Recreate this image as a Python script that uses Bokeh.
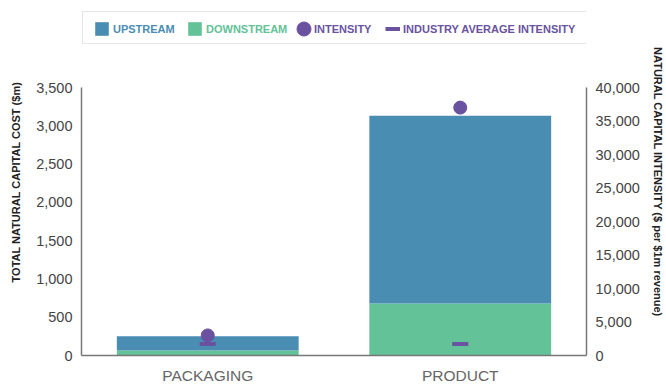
from bokeh.plotting import figure
from bokeh.models import (FactorRange, Range1d, LinearAxis, NumeralTickFormatter,
                          Legend, LegendItem, ColumnDataSource)
from bokeh.embed import file_html
from bokeh.resources import INLINE

categories = ["PACKAGING", "PRODUCT"]
downstream = [65, 680]
upstream = [185, 2450]
intensity = [3000, 37000]
industry_avg = [1700, 1700]

left_ticks = [0, 500, 1000, 1500, 2000, 2500, 3000, 3500]
right_ticks = [0, 5000, 10000, 15000, 20000, 25000, 30000, 35000, 40000]
LEFT_MAX = 3500
RIGHT_MAX = 40000

BLUE = "#4a8db3"
GREEN = "#63c297"
PURPLE = "#6a52a0"
FONT = "Liberation Sans"

# layout (pixels)
FRAME_W = 505
FRAME_H = 347            # frame reaches up to the legend row so the legend lies inside it
AXIS_PX = 268            # height of the scaled axis part
stretch = FRAME_H / AXIS_PX

src = ColumnDataSource(dict(cat=categories, downstream=downstream, upstream=upstream,
                            intensity=intensity, industry=industry_avg))

p = figure(x_range=FactorRange(factors=categories), y_range=Range1d(0, LEFT_MAX * stretch),
           frame_width=FRAME_W, frame_height=FRAME_H, output_backend="svg", toolbar_location=None,
           min_border_left=81, min_border_right=80, min_border_top=8, min_border_bottom=30)
p.extra_y_ranges = {"intensity": Range1d(0, RIGHT_MAX * stretch)}

bars = p.vbar_stack(["downstream", "upstream"], x="cat", width=0.72, color=[GREEN, BLUE],
                    line_color=None, source=src)
dots = p.scatter(x="cat", y="intensity", size=13, color=PURPLE, y_range_name="intensity", source=src)
dashes = p.scatter(x="cat", y="industry", marker="dash", size=16, line_width=4,
                   line_color=PURPLE, y_range_name="intensity", source=src)
# legend-only renderers (nothing visible in the plot)
nan = float("nan")
leg_dot = p.scatter(x=[categories[0]], y=[nan], size=13, color=PURPLE)
leg_line = p.line(x=[categories[0]], y=[nan], line_width=4, line_color=PURPLE)
leg_none = p.line(x=[categories[0]], y=[nan], line_alpha=0)

p.grid.visible = False
p.outline_line_color = None

ya = p.yaxis[0]
ya.ticker = left_ticks
ya.bounds = (0, LEFT_MAX)
ya.formatter = NumeralTickFormatter(format="0,0")
ya.axis_label = "TOTAL NATURAL CAPITAL COST ($m)"

ra = LinearAxis(y_range_name="intensity", ticker=right_ticks, bounds=(0, RIGHT_MAX),
                formatter=NumeralTickFormatter(format="0,0"),
                axis_label="NATURAL CAPITAL INTENSITY ($ per $1m revenue)")
p.add_layout(ra, "right")

for ax in (ya, ra):
    ax.major_tick_line_color = None
    ax.minor_tick_line_color = None
    ax.major_tick_out = 0
    ax.major_tick_in = 0
    ax.axis_line_color = "#777777"
    ax.axis_line_width = 1.5
    ax.major_label_text_font = FONT
    ax.major_label_text_font_size = "14.5px"
    ax.major_label_text_color = "#444444"
    ax.major_label_standoff = 9
    ax.axis_label_text_font = FONT
    ax.axis_label_text_font_style = "bold"
    ax.axis_label_text_font_size = "11px"
    ax.axis_label_text_color = "#222222"
ya.axis_label_standoff = 11
ra.axis_label_standoff = 9

xa = p.xaxis[0]
xa.major_tick_line_color = None
xa.major_tick_out = 0
xa.major_tick_in = 0
xa.axis_line_color = "#777777"
xa.axis_line_width = 1.5
xa.major_label_text_font = FONT
xa.major_label_text_font_size = "15.5px"
xa.major_label_text_color = "#666666"
xa.major_label_standoff = 11

def mk_legend(label, renderers, color, loc, gw=17, gh=17, standoff=3, border=None, alpha=1.0):
    lg = Legend(items=[LegendItem(label=label, renderers=renderers)], location=loc,
                orientation="horizontal", border_line_color=border, border_line_width=1.5,
                background_fill_alpha=0,
                padding=0, margin=0, glyph_width=gw, glyph_height=gh, label_standoff=standoff,
                label_text_font=FONT, label_text_font_style="bold", label_text_font_size="11px",
                label_text_color=color, label_text_alpha=alpha, label_height=gh)
    p.add_layout(lg, "center")

# legend row: box, then items (positions from the frame's bottom-left corner)
mk_legend(" ", [leg_none], "#ffffff", (1, 311), gw=501, gh=31, standoff=0, border="#cccccc", alpha=0)
mk_legend("UPSTREAM", [bars[1]], BLUE, (12, 318))
mk_legend("DOWNSTREAM", [bars[0]], GREEN, (105, 318))
mk_legend(" ", [leg_dot], PURPLE, (205, 309), gw=35, gh=35, standoff=0, alpha=0)
mk_legend("INTENSITY", [leg_none], PURPLE, (232, 318), gw=1, standoff=0)
mk_legend("INDUSTRY AVERAGE INTENSITY", [leg_line], PURPLE, (304, 318), gw=15)

open("out.html", "w").write(file_html(p, INLINE))
